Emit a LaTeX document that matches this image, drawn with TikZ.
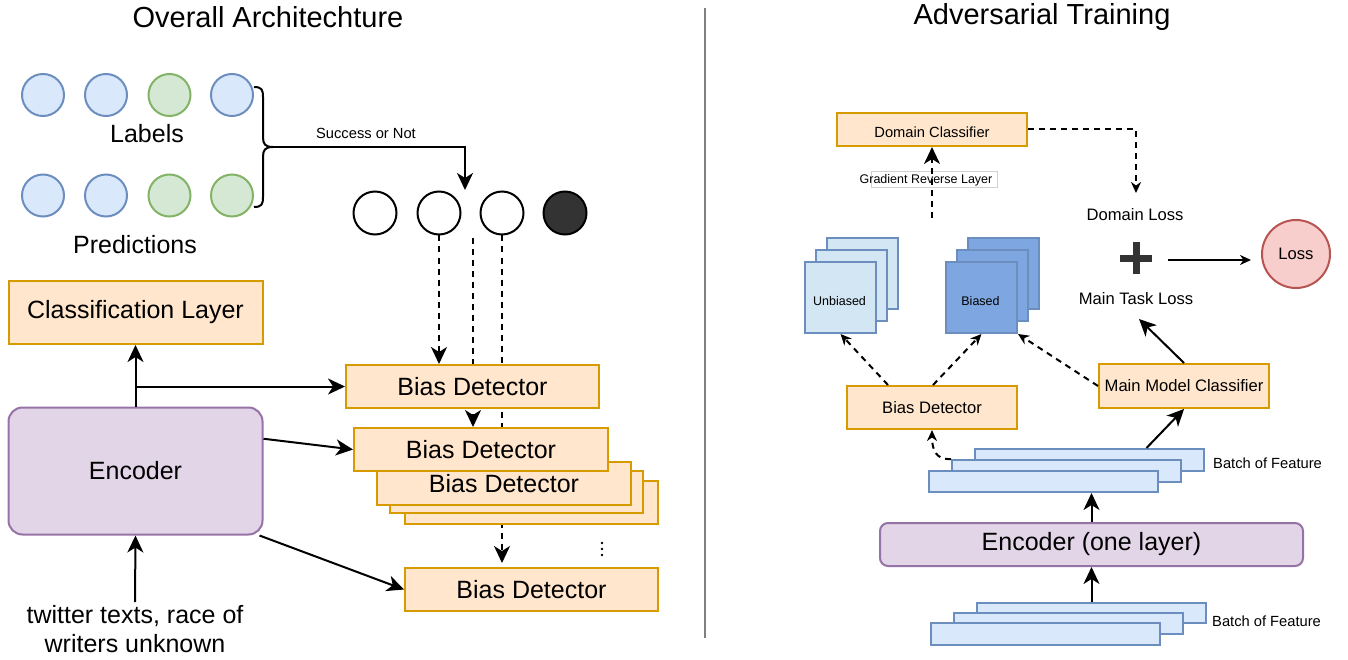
\documentclass[tikz,border=0pt]{standalone}
\usepackage{fontspec}
\setmainfont{Liberation Sans}
\usetikzlibrary{arrows.meta,calc}
\definecolor{oF}{HTML}{FFE6CC}
\definecolor{oS}{HTML}{D79B00}
\definecolor{bF}{HTML}{DAE8FC}
\definecolor{bS}{HTML}{6C8EBF}
\definecolor{gF}{HTML}{D5E8D4}
\definecolor{gS}{HTML}{82B366}
\definecolor{pF}{HTML}{E1D5E7}
\definecolor{pS}{HTML}{9673A6}
\definecolor{rF}{HTML}{F8CECC}
\definecolor{rS}{HTML}{B85450}
\definecolor{ubF}{HTML}{D2E6F4}
\definecolor{biF}{HTML}{7EA6E0}
\definecolor{dk}{HTML}{333333}
\definecolor{divc}{HTML}{808080}
\pgfdeclarelayer{bg}
\pgfsetlayers{bg,main}
\tikzset{
  fA/.style={font=\fontsize{29}{34}\selectfont},
  fB/.style={font=\fontsize{25}{30}\selectfont},
  fC/.style={font=\fontsize{16.6}{20}\selectfont},
  fD/.style={font=\fontsize{14.7}{18}\selectfont},
  fE/.style={font=\fontsize{12.5}{15}\selectfont},
  shp/.style={line width=2pt, inner sep=0pt, anchor=center},
  obox/.style={shp, draw=oS, fill=oF},
  pbox/.style={shp, draw=pS, fill=pF, rounded corners=14pt},
  fbox/.style={shp, draw=bS, fill=bF, minimum width=229pt},
  ubox/.style={shp, draw=bS, fill=ubF, minimum width=71pt, minimum height=71pt},
  bbox/.style={shp, draw=bS, fill=biF, minimum width=71pt, minimum height=71pt},
  bcirc/.style={shp, circle, draw=bS, fill=bF, minimum size=42pt},
  gcirc/.style={shp, circle, draw=gS, fill=gF, minimum size=42pt},
  wcirc/.style={shp, circle, draw=black, fill=white, minimum size=43pt},
  arr/.style={line width=2pt, -{Stealth[length=17pt,width=16pt,inset=5pt]}},
  arrS/.style={line width=2pt, -{Stealth[length=11pt,width=10pt,inset=3.5pt]}},
  dsh/.style={arr, dash pattern=on 6pt off 5pt},
  dshS/.style={arrS, dash pattern=on 6pt off 5pt},
  txt/.style={inner sep=0pt, anchor=center},
}
\begin{document}
\begin{tikzpicture}[x=1pt,y=-1pt]
\useasboundingbox (0,0) rectangle (1348,660);
% titles and divider
\node[txt,fA] (t1) at (268,17) {Overall Architechture};
\node[txt,fA] (t2) at (1042,17) {Adversarial Training};
\draw[line width=2pt, divc] (705,8) -- (705,638);

% ---------- left ----------
\node[bcirc] (l1) at (43,95) {};
\node[bcirc] (l2) at (106,95) {};
\node[gcirc] (l3) at (169.5,95) {};
\node[bcirc] (l4) at (232,95) {};
\node[bcirc] (p1) at (43,195.5) {};
\node[bcirc] (p2) at (106,195.5) {};
\node[gcirc] (p3) at (169.5,195.5) {};
\node[gcirc] (p4) at (232,195.5) {};
\node[txt,fB] (lab) at (147,134) {Labels};
\node[txt,fB] (pred) at (135,245) {Predictions};
% brace
\draw[line width=2pt] (254,87) .. controls (262,87) and (263,90) .. (263,97) -- (263,137)
  .. controls (263,144) and (265,147) .. (273,147)
  .. controls (265,147) and (263,150) .. (263,157) -- (263,197)
  .. controls (263,204) and (262,207) .. (254,207);
\coordinate (bt) at (273,147);
\coordinate (sn) at (465,190);
\node[txt,fD] (succ) at (366,133) {Success or Not};

\node[wcirc] (r1) at (375,213) {};
\node[wcirc] (r2) at (439,213) {};
\node[wcirc] (r3) at (502,213) {};
\node[shp, circle, draw=black, fill=dk, minimum size=43pt] (r4) at (565,213) {};
\coordinate (d2s) at (473,238);

\node[obox,fB,minimum width=254pt,minimum height=63pt] (cls) at (135.5,312.5) {Classification Layer};
\node[pbox,fB,minimum width=254pt,minimum height=127pt] (enc) at (135.5,471) {Encoder};
\node[txt,fB,align=center] (inp) at (135,629) {twitter texts, race of\\[-1pt]writers unknown};

\node[obox,minimum width=253pt,minimum height=43pt] (bd5) at (531.5,502.5) {};
\node[obox,minimum width=253pt,minimum height=42pt] (bd4) at (516.5,492) {};
\node[obox,fB,minimum width=254pt,minimum height=43pt] (bd3) at (504,483.5) {Bias Detector};
\node[obox,fB,minimum width=254pt,minimum height=43pt] (bd2) at (481,449.5) {Bias Detector};
\node[obox,fB,minimum width=253pt,minimum height=43pt] (bd1) at (472.5,386.5) {Bias Detector};
\node[obox,fB,minimum width=253pt,minimum height=43pt] (bdb) at (531.5,589.5) {Bias Detector};
\foreach \yy in {543,549,555} \fill (602,\yy) circle (1.3pt);

\draw[arr] (bt) -| (sn);
\draw[dsh] (r2.south) -- (r2.south |- bd1.north);
\begin{pgfonlayer}{bg}
\draw[dsh] (d2s) -- (d2s |- bd2.north);
\draw[dsh, shorten >=4pt] (r3.south) -- (r3.south |- bdb.north);
\end{pgfonlayer}
\draw[arr] (enc.north) -- (cls.south);
\draw[arr] (enc.north |- bd1.west) -- (bd1.west);
\draw[arr] ($(enc.north east)!0.25!(enc.south east)$) -- (bd2.west);
\draw[arr] ($(enc.south east)+(-4,0)$) -- (bdb.west);
\draw[arr] ($(inp.north)+(0,-3)$) -- (enc.south);

% ---------- right ----------
\node[obox,minimum width=190pt,minimum height=33pt] (dc) at (932,129.5) {};
\node[txt,fD] (dct) at (932,132) {Domain Classifier};
\draw[draw=black!18, fill=white, line width=0.8pt] (871,171) rectangle (997,187);
\node[txt,fE] (grl) at (926,180) {Gradient Reverse Layer};
\coordinate (grlS) at (932,218);
\coordinate (dlt) at (1136,193);
\node[txt,fC] (dl) at (1135,215) {Domain Loss};
\node[txt,fC] (mtl) at (1136,299) {Main Task Loss};
\coordinate (plus) at (1136,258);
\draw[line width=7pt, dk] ($(plus)+(-16,0)$) -- ($(plus)+(16,0)$);
\draw[line width=7pt, dk] ($(plus)+(0,-16)$) -- ($(plus)+(0,16)$);
\node[shp, circle, draw=rS, fill=rF, minimum size=68pt, fC] (loss) at (1296,254) {Loss};

\node[ubox] (ub3) at (862.5,273.5) {};
\node[ubox] (ub2) at (851.5,285.5) {};
\node[ubox] (ub1) at (840.5,297.5) {};
\node[txt,fE] (ubt) at (839.5,301) {Unbiased};
\node[bbox] (b3) at (1003.5,273.5) {};
\node[bbox] (b2) at (992.5,285.5) {};
\node[bbox] (b1) at (981.5,297.5) {};
\node[txt,fE] (bt2) at (980.5,301) {Biased};

\node[obox,fC,minimum width=170pt,minimum height=43pt] (bdr) at (932,407.5) {Bias Detector};
\node[obox,fC,minimum width=170pt,minimum height=44pt] (mmc) at (1184,386) {Main Model Classifier};

\node[fbox,minimum height=22pt] (fb3) at (1089.5,460) {};
\node[fbox,minimum height=22pt] (fb2) at (1066.5,471) {};
\node[fbox,minimum height=21pt] (fb1) at (1043.5,481.5) {};
\node[txt,fD,anchor=west] (bf1) at (1213,463) {Batch of Feature};

\node[pbox,fB,rounded corners=8pt,minimum width=423pt,minimum height=43pt] (encr) at (1091.5,544.5) {Encoder (one layer)};

\node[fbox,minimum height=20pt] (gb3) at (1091.5,613) {};
\node[fbox,minimum height=21pt] (gb2) at (1068.5,623.5) {};
\node[fbox,minimum height=22pt] (gb1) at (1045.5,634) {};
\node[txt,fD,anchor=west] (bf2) at (1212,621) {Batch of Feature};

\coordinate (mtlin) at (1139,319);
\draw[dsh] (grlS) -- (dc.south);
\draw[dshS] (dc.east) -| (dlt);
\draw[arrS, shorten >=10pt] ($(plus)+(32,2)$) -- (loss.west |- 0,260);
\draw[dshS] ($(bdr.north)+(-44,0)$) -- (ub1.south);
\draw[dshS] ($(bdr.north)+(1,0)$) -- (b1.south);
\draw[dshS] (mmc.west) -- (b1.south east);
\draw[dshS] (fb2.north west) .. controls (936,460) and (932,450) .. (bdr.south);
\draw[arr] (mmc.north) -- (mtlin);
\draw[arr] ($(fb3.north)+(57,0)$) -- (mmc.south);
\draw[arr] (encr.north) -- (encr.north |- fb1.south);
\draw[arr] (gb3.north) -- (encr.south);
\end{tikzpicture}
\end{document}
